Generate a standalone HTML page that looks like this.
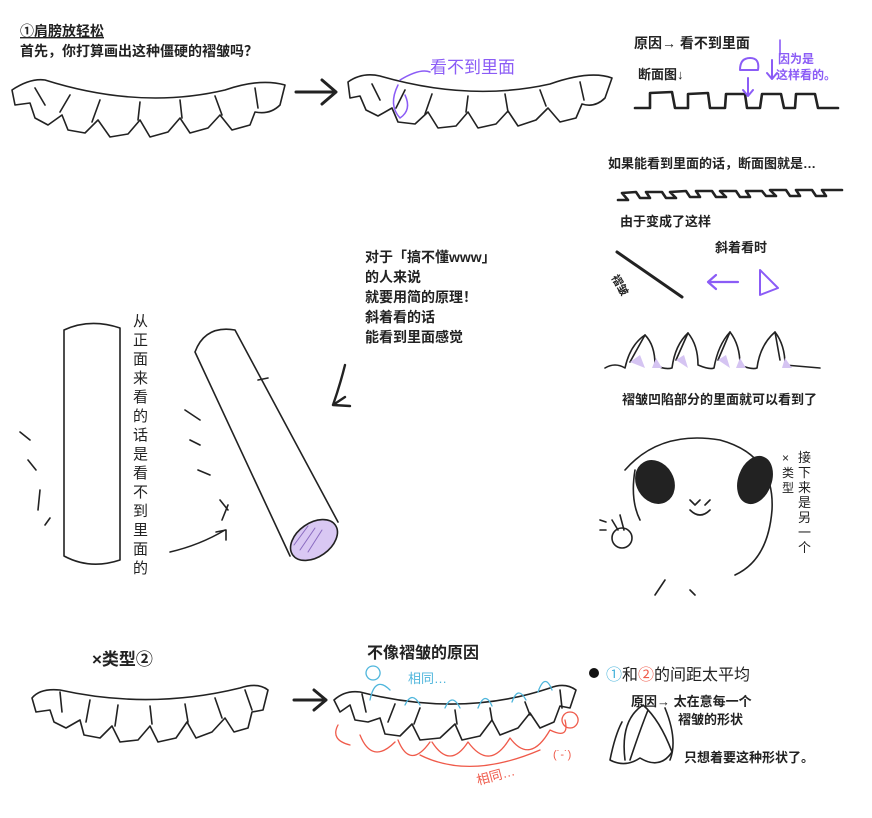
<!DOCTYPE html>
<html><head><meta charset="utf-8"><style>
html,body{margin:0;padding:0;background:#fff;}
svg{display:block}
text{font-family:"Liberation Sans","Noto Sans CJK SC",sans-serif;font-weight:bold;fill:#222;}
</style></head><body>
<svg width="872" height="818" viewBox="0 0 872 818" xmlns="http://www.w3.org/2000/svg">
<rect width="872" height="818" fill="#fff"/>
<g fill="none" stroke="#222" stroke-width="1.6" stroke-linecap="round" stroke-linejoin="round">
<!-- top-left ruffle -->
<path d="M12,90 Q30,78 45,80 Q140,110 225,90 Q260,78 285,85 L280,105 Q270,115 255,112 L250,125 L232,130 L220,115 L208,128 L190,133 L180,118 L168,132 L150,137 L140,120 L128,134 L110,137 L98,120 L85,133 L68,130 L62,115 L48,125 L35,118 L30,103 L15,105 Z"/>
<path d="M35,88 L45,105 M70,95 L60,112 M100,100 L92,122 M140,102 L138,120 M180,100 L182,118 M215,96 L222,115 M255,88 L258,108"/>
<!-- top arrow -->
<path d="M296,92 L335,92 M322,80 L336,92 L322,104" stroke-width="3"/>
<!-- second ruffle -->
<path d="M348,82 Q362,72 380,76 Q470,102 550,84 Q590,70 612,78 L605,98 Q595,108 582,104 L576,118 L560,122 L548,108 L536,120 L518,126 L508,111 L496,124 L478,128 L468,112 L456,126 L438,128 L428,112 L415,124 L398,122 L392,108 L378,116 L366,110 L360,96 L350,98 Z"/>
<path d="M372,84 L380,100 M405,90 L396,108 M432,94 L425,114 M468,96 L466,112 M505,94 L508,112 M540,90 L546,106 M580,82 L584,100"/>
<!-- section square wave -->
<path d="M635,108 L650,108 L650,93 L672,92 L675,108 L688,108 L688,94 L708,93 L710,108 L725,108 L726,94 L745,94 L747,108 L760,108 L762,94 L781,94 L784,108 L795,108 L796,94 L815,94 L818,108 L838,108" stroke-width="2.6"/>
<!-- S wave -->
<path d="M618,200 L628,200 L622,193 L636,192 L640,198 L650,198 L646,192 L662,192 L666,198 L676,198 L670,192 L686,191 L690,197 L700,197 L696,191 L712,191 L716,197 L726,197 L720,191 L736,191 L740,197 L750,197 L746,191 L762,191 L766,196 L776,196 L770,190 L786,190 L790,196 L800,196 L796,190 L812,190 L816,196 L826,196 L822,190 L842,190" stroke-width="2.6"/>
<!-- diagonal line -->
<path d="M617,252 L682,297" stroke-width="3"/>
<!-- bottom right ruffle section -->
<path d="M605,368 Q615,362 625,368 Q630,345 645,335 Q655,345 655,365 Q665,370 672,368 Q675,345 688,333 Q698,345 698,365 Q710,370 714,368 Q718,345 730,332 Q740,345 740,365 Q752,370 757,368 Q760,345 775,332 Q785,345 785,365 L820,368"/>
<path d="M645,335 L630,362 M688,333 L676,360 M730,332 L718,360 M775,332 L780,360"/>
<!-- vertical cylinder -->
<path d="M64,330 Q90,318 120,328 L120,560 Q90,570 64,556 Z"/>
<!-- tilted cylinder -->
<path d="M195,352 Q205,325 235,330 L338,522 M195,352 L290,556"/>
<path d="M258,380 Q268,378 268,378"/>
<ellipse cx="314" cy="540" rx="26" ry="17" transform="rotate(-35 314 540)" fill="#d9c8f3"/>
<path d="M300,550 L315,528 M308,552 L322,530 M294,545 L308,526" stroke="#8a6bc0" stroke-width="1"/>
<!-- bend arrow -->
<path d="M170,552 Q200,545 225,530 M216,532 L226,530 L226,540"/>
<path d="M345,365 Q340,385 333,405 M333,405 L345,397 M333,405 L350,406" stroke-width="2.4"/>
<path d="M20,432 L30,440 M28,460 L36,470 M40,490 L38,510 M50,518 L45,525"/>
<path d="M185,410 L200,420 M190,440 L200,445 M198,470 L210,475 M220,500 L228,510 M222,520 L228,505"/>
<!-- panda -->
<path d="M625,470 Q660,430 720,440 Q775,455 772,510 Q768,560 735,575 M690,590 L695,595 M665,580 L655,595"/>
<path d="M635,470 Q630,500 640,520" />
<ellipse cx="655" cy="482" rx="18" ry="22" fill="#222" transform="rotate(-30 655 482)"/>
<ellipse cx="755" cy="480" rx="16" ry="24" fill="#222" transform="rotate(20 755 480)"/>
<path d="M690,500 L695,505 L700,500 M705,505 L710,500 M690,510 Q700,520 710,510"/>
<circle cx="622" cy="538" r="10"/>
<path d="M612,520 L618,530 M620,515 L624,530 M600,520 L606,522 M600,530 L606,530"/>
<!-- bottom left ruffle -->
<path d="M32,698 Q40,688 60,690 Q150,710 240,688 Q258,682 268,690 L263,710 L252,712 L248,728 L234,732 L225,718 L212,732 L196,738 L187,722 L176,738 L158,742 L150,726 L138,740 L120,742 L112,726 L100,738 L84,735 L80,720 L66,728 L54,722 L50,710 L36,712 Z"/>
<path d="M60,692 L62,712 M90,700 L86,722 M118,705 L115,726 M150,706 L152,724 M185,704 L188,722 M215,698 L222,718 M245,690 L252,710"/>
<path d="M294,700 L326,700 M314,690 L326,700 L314,710" stroke-width="3"/>
<!-- second bottom ruffle -->
<path d="M334,700 Q345,690 360,692 Q460,718 550,688 Q565,682 576,690 L570,708 L560,706 L554,722 L540,728 L530,713 L518,728 L500,735 L492,720 L480,736 L462,740 L455,724 L440,738 L420,740 L412,724 L400,736 L385,734 L380,718 L368,722 L355,720 L350,705 L340,712 Z"/>
<path d="M362,694 L366,712 M395,704 L388,722 M420,708 L414,724 M455,710 L457,724 M490,708 L492,720 M525,702 L530,715 M560,690 L562,708"/>
<path d="M370,700 Q375,675 390,690 M405,705 Q412,690 420,705 M445,708 Q452,692 460,708 M478,708 Q485,690 492,706 M512,702 Q518,685 526,700 M538,692 Q545,672 552,690 M373,680 a7,7 0 1,1 0.1,0" stroke="#4fb6dc" stroke-width="1.3"/>
<path d="M338,725 Q330,740 350,745 M360,735 Q372,765 395,742 M398,740 Q410,770 430,742 M432,742 Q450,770 468,742 M468,742 Q490,772 510,738 M510,738 Q530,765 550,730 M550,730 Q570,740 565,720 M570,728 a8,8 0 1,1 0.1,0 M420,755 Q470,780 540,750" stroke="#ef5a4a" stroke-width="1.3"/>
<!-- cone -->
<path d="M625,760 Q620,720 643,705 Q660,720 672,752 Q660,770 640,758 Q625,768 610,760 Q615,735 622,722 M648,710 Q640,730 630,760 M665,708 Q678,740 670,760"/>
<path d="M740,70 Q740,58 750,58 Q760,58 758,70 Z M748,78 L748,95 M743,90 L748,96 L753,90 M772,60 L772,78 M767,73 L772,79 L777,73" stroke="#8b5cf6" stroke-width="2"/>
<path d="M780,40 L780,55" stroke="#8b5cf6"/>
<path d="M738,282 L708,282 M716,275 L708,282 L716,289" stroke="#8b5cf6" stroke-width="2.2"/>
<path d="M760,270 L760,295 L778,288 Z" stroke="#8b5cf6" stroke-width="2"/>
<path d="M400,80 Q420,68 430,72 M398,85 Q388,105 400,118 Q412,110 405,95" stroke="#8b5cf6" stroke-width="1.5"/>
</g>
<g fill="#d5c4f2"><path d="M630,362 L640,355 L645,368 Z"/><path d="M656,358 L662,368 L652,368Z"/><path d="M676,360 L684,355 L688,368Z"/><path d="M718,360 L726,355 L730,368Z"/><path d="M740,358 L746,368 L736,368Z"/><path d="M785,358 L792,368 L782,368Z"/></g>
<text x="20" y="36" font-size="14" text-decoration="underline">①肩膀放轻松</text>
<text x="20" y="56" font-size="14">首先，你打算画出这种僵硬的褶皱吗？</text>
<text x="430" y="73" font-size="17" style="fill:#8b5cf6;font-weight:normal">看不到里面</text>
<text x="634" y="48" font-size="14">原因→ 看不到里面</text>
<text x="638" y="79" font-size="13">断面图↓</text>
<text x="778" y="63" font-size="12" style="fill:#8b5cf6">因为是</text>
<text x="776" y="79" font-size="12" style="fill:#8b5cf6">这样看的。</text>
<text x="608" y="168" font-size="13">如果能看到里面的话，断面图就是…</text>
<text x="620" y="226" font-size="13">由于变成了这样</text>
<text x="715" y="252" font-size="13">斜着看时</text>
<text x="605" y="282" font-size="11" transform="rotate(60 612 285)">褶皱</text>
<text x="622" y="404" font-size="13">褶皱凹陷部分的里面就可以看到了</text>
<g font-size="14"><text x="365" y="262">对于「搞不懂www」</text><text x="365" y="282">的人来说</text><text x="365" y="302">就要用简的原理！</text><text x="365" y="322">斜着看的话</text><text x="365" y="342">能看到里面感觉</text></g>
<text font-size="15" style="font-weight:normal"><tspan x="133" y="326">从</tspan><tspan x="133" y="345">正</tspan><tspan x="133" y="364">面</tspan><tspan x="133" y="383">来</tspan><tspan x="133" y="402">看</tspan><tspan x="133" y="421">的</tspan><tspan x="133" y="440">话</tspan><tspan x="133" y="459">是</tspan><tspan x="133" y="478">看</tspan><tspan x="133" y="497">不</tspan><tspan x="133" y="516">到</tspan><tspan x="133" y="535">里</tspan><tspan x="133" y="554">面</tspan><tspan x="133" y="573">的</tspan></text>
<text font-size="13" style="font-weight:normal"><tspan x="798" y="462">接</tspan><tspan x="798" y="477">下</tspan><tspan x="798" y="492">来</tspan><tspan x="798" y="507">是</tspan><tspan x="798" y="522">另</tspan><tspan x="798" y="537">一</tspan><tspan x="798" y="552">个</tspan></text>
<text font-size="12" style="font-weight:normal"><tspan x="782" y="462">×</tspan><tspan x="782" y="477">类</tspan><tspan x="782" y="492">型</tspan></text>
<text x="92" y="665" font-size="17">×类型②</text>
<text x="367" y="658" font-size="16">不像褶皱的原因</text>
<text x="408" y="683" font-size="13" style="fill:#4fb6dc;font-weight:normal">相同…</text>
<text x="478" y="785" font-size="13" style="fill:#ef5a4a;font-weight:normal" transform="rotate(-15 478 785)">相同…</text>
<text x="553" y="758" font-size="11" style="fill:#ef5a4a;font-weight:normal">(˙-˙)</text>
<circle cx="594" cy="673" r="5" fill="#111"/>
<text x="606" y="680" font-size="16" style="font-weight:normal"><tspan style="fill:#4fb6dc">①</tspan>和<tspan style="fill:#ef5a4a">②</tspan>的间距太平均</text>
<text x="631" y="706" font-size="13">原因→ 太在意每一个</text>
<text x="678" y="724" font-size="13">褶皱的形状</text>
<text x="684" y="762" font-size="13">只想着要这种形状了。</text>
</svg>
</body></html>
